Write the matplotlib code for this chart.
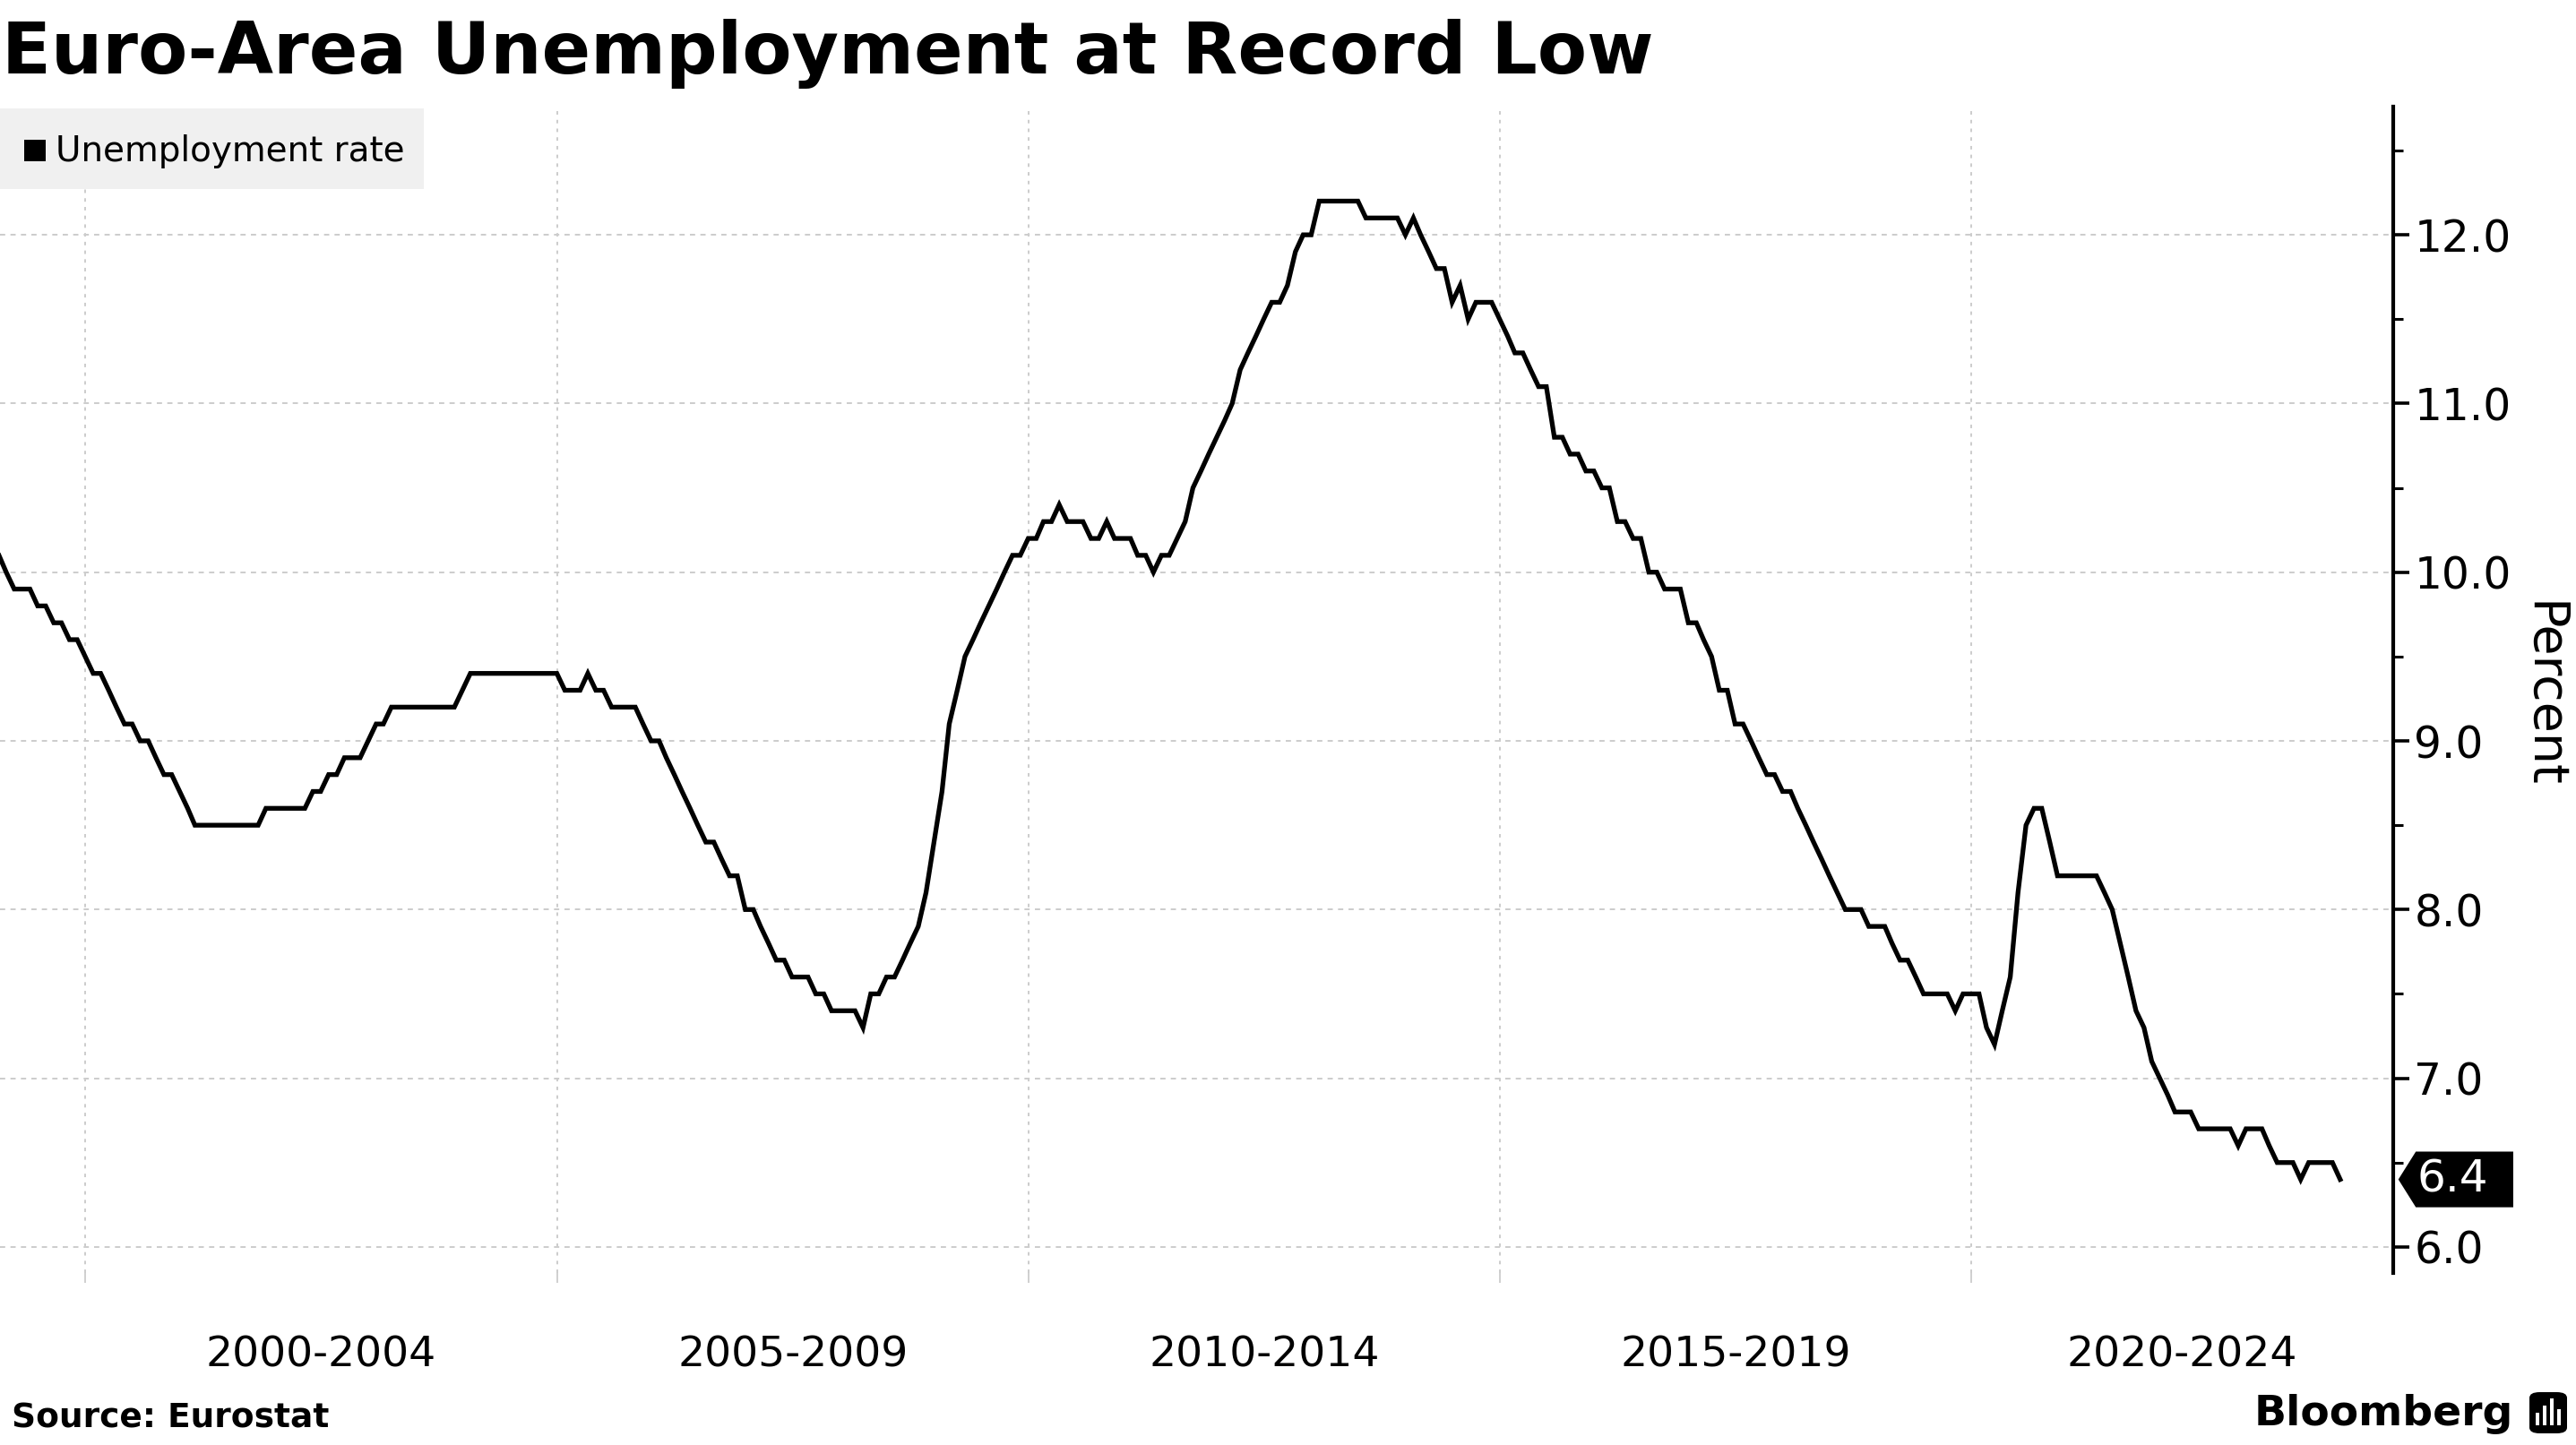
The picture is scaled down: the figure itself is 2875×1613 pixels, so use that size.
import numpy as np
import pandas as pd
import matplotlib
matplotlib.use("Agg")
import matplotlib.pyplot as plt
import matplotlib.transforms as mtransforms
from matplotlib.patches import Polygon, Rectangle, FancyBboxPatch

# ---- text ----
title = "Euro-Area Unemployment at Record Low"
series_name = "Unemployment rate"
source = "Source: Eurostat"
y_label = "Percent"
period_labels = ["2000-2004", "2005-2009", "2010-2014", "2015-2019", "2020-2024"]
period_starts = [2000, 2005, 2010, 2015, 2020]
y_ticks = [6, 7, 8, 9, 10, 11, 12]

# ---- data: euro-area unemployment rate (%), monthly, Jan 1999 - Nov 2023 ----
first_month = "1999-01"
rate_1999 = [10.1, 10.0, 9.9, 9.9, 9.9, 9.8, 9.8, 9.7, 9.7, 9.6, 9.6, 9.5]
rate_2000 = [9.4, 9.4, 9.3, 9.2, 9.1, 9.1, 9.0, 9.0, 8.9, 8.8, 8.8, 8.7]
rate_2001 = [8.6, 8.5, 8.5, 8.5, 8.5, 8.5, 8.5, 8.5, 8.5, 8.5, 8.6, 8.6]
rate_2002 = [8.6, 8.6, 8.6, 8.6, 8.7, 8.7, 8.8, 8.8, 8.9, 8.9, 8.9, 9.0]
rate_2003 = [9.1, 9.1, 9.2, 9.2, 9.2, 9.2, 9.2, 9.2, 9.2, 9.2, 9.2, 9.3]
rate_2004 = [9.4, 9.4, 9.4, 9.4, 9.4, 9.4, 9.4, 9.4, 9.4, 9.4, 9.4, 9.4]
rate_2005 = [9.3, 9.3, 9.3, 9.4, 9.3, 9.3, 9.2, 9.2, 9.2, 9.2, 9.1, 9.0]
rate_2006 = [9.0, 8.9, 8.8, 8.7, 8.6, 8.5, 8.4, 8.4, 8.3, 8.2, 8.2, 8.0]
rate_2007 = [8.0, 7.9, 7.8, 7.7, 7.7, 7.6, 7.6, 7.6, 7.5, 7.5, 7.4, 7.4]
rate_2008 = [7.4, 7.4, 7.3, 7.5, 7.5, 7.6, 7.6, 7.7, 7.8, 7.9, 8.1, 8.4]
rate_2009 = [8.7, 9.1, 9.3, 9.5, 9.6, 9.7, 9.8, 9.9, 10.0, 10.1, 10.1, 10.2]
rate_2010 = [10.2, 10.3, 10.3, 10.4, 10.3, 10.3, 10.3, 10.2, 10.2, 10.3, 10.2, 10.2]
rate_2011 = [10.2, 10.1, 10.1, 10.0, 10.1, 10.1, 10.2, 10.3, 10.5, 10.6, 10.7, 10.8]
rate_2012 = [10.9, 11.0, 11.2, 11.3, 11.4, 11.5, 11.6, 11.6, 11.7, 11.9, 12.0, 12.0]
rate_2013 = [12.2, 12.2, 12.2, 12.2, 12.2, 12.2, 12.1, 12.1, 12.1, 12.1, 12.1, 12.0]
rate_2014 = [12.1, 12.0, 11.9, 11.8, 11.8, 11.6, 11.7, 11.5, 11.6, 11.6, 11.6, 11.5]
rate_2015 = [11.4, 11.3, 11.3, 11.2, 11.1, 11.1, 10.8, 10.8, 10.7, 10.7, 10.6, 10.6]
rate_2016 = [10.5, 10.5, 10.3, 10.3, 10.2, 10.2, 10.0, 10.0, 9.9, 9.9, 9.9, 9.7]
rate_2017 = [9.7, 9.6, 9.5, 9.3, 9.3, 9.1, 9.1, 9.0, 8.9, 8.8, 8.8, 8.7]
rate_2018 = [8.7, 8.6, 8.5, 8.4, 8.3, 8.2, 8.1, 8.0, 8.0, 8.0, 7.9, 7.9]
rate_2019 = [7.9, 7.8, 7.7, 7.7, 7.6, 7.5, 7.5, 7.5, 7.5, 7.4, 7.5, 7.5]
rate_2020 = [7.5, 7.3, 7.2, 7.4, 7.6, 8.1, 8.5, 8.6, 8.6, 8.4, 8.2, 8.2]
rate_2021 = [8.2, 8.2, 8.2, 8.2, 8.1, 8.0, 7.8, 7.6, 7.4, 7.3, 7.1, 7.0]
rate_2022 = [6.9, 6.8, 6.8, 6.8, 6.7, 6.7, 6.7, 6.7, 6.7, 6.6, 6.7, 6.7]
rate_2023 = [6.7, 6.6, 6.5, 6.5, 6.5, 6.4, 6.5, 6.5, 6.5, 6.5, 6.4]

rate = (rate_1999 + rate_2000 + rate_2001 + rate_2002 + rate_2003 + rate_2004
        + rate_2005 + rate_2006 + rate_2007 + rate_2008 + rate_2009 + rate_2010
        + rate_2011 + rate_2012 + rate_2013 + rate_2014 + rate_2015 + rate_2016
        + rate_2017 + rate_2018 + rate_2019 + rate_2020 + rate_2021 + rate_2022
        + rate_2023)
dates = pd.date_range(first_month, periods=len(rate), freq="ME")  # month-end points

plt.rcParams["font.family"] = "DejaVu Sans"

fig = plt.figure(figsize=(14.375, 8.065), dpi=200)
ax = fig.add_axes([0.0, 0.119, 0.929, 0.8072])

ax.plot(dates, rate, color="black", lw=1.9, solid_joinstyle="miter", zorder=3)

x_left = pd.Timestamp("1999-02-04")
x_right = pd.Timestamp("2024-06-22")
ax.set_xlim(x_left, x_right)
ax.set_ylim(5.845, 12.76)

# y axis on the right
ax.yaxis.tick_right()
ax.set_yticks(y_ticks)
ax.set_yticklabels([f"{v:.1f}" for v in y_ticks])
ax.set_yticks(np.arange(6.5, 12.6, 1.0), minor=True)
ax.tick_params(axis="y", which="major", direction="out", length=6.5, width=1.3,
               pad=2, labelsize=17.5, colors="black")
ax.tick_params(axis="y", which="minor", direction="out", length=3.8, width=1.1)

# x axis: gridlines at period starts, labels centred in each period
starts = [pd.Timestamp(f"{y}-01-01") for y in period_starts]
ends = starts[1:] + [x_right]
mids = [s + (e - s) / 2 for s, e in zip(starts, ends)]
ax.set_xticks(starts)
ax.set_xticklabels([""] * len(starts))
ax.set_xticks(mids, minor=True)
ax.set_xticklabels(period_labels, minor=True)
ax.tick_params(axis="x", which="major", length=4, width=0.6, color="#c8c8c8")
ax.tick_params(axis="x", which="minor", length=0, pad=25, labelsize=17)

ax.grid(axis="y", which="major", color="#cccccc", lw=0.7, linestyle=(0, (3, 3)))
ax.grid(axis="x", which="major", color="#cccccc", lw=0.7, linestyle=(0, (2, 3)))

for side in ["left", "top", "bottom"]:
    ax.spines[side].set_visible(False)
ax.spines["right"].set_linewidth(1.5)

# last value tag
last = rate[-1]
blend = mtransforms.blended_transform_factory(ax.transAxes, ax.transData)
h = 0.165
tag = Polygon([(1.0022, last), (1.0095, last + h), (1.0502, last + h),
               (1.0502, last - h), (1.0095, last - h)],
              closed=True, transform=blend, facecolor="black", edgecolor="none",
              clip_on=False, zorder=5)
ax.add_patch(tag)
ax.text(1.0100, last, f"{last:.1f}", transform=blend, color="white",
        fontsize=18, ha="left", va="center", zorder=6, clip_on=False)

fig.text(2838 / 2875, 0.519, y_label, rotation=270, fontsize=20,
         ha="center", va="center")

# legend box
fig.patches.append(Rectangle((0.0, 0.8692), 0.1645, 0.0558,
                             transform=fig.transFigure, facecolor="#f0f0f0",
                             edgecolor="none"))
fig.patches.append(Rectangle((27 / 2875, 1 - 180 / 1613), 24 / 2875, 24 / 1613,
                             transform=fig.transFigure, facecolor="black",
                             edgecolor="none"))
fig.text(62 / 2875, 0.8955, series_name, fontsize=14, ha="left", va="center")

# title and footer
fig.text(0.0008, 0.963, title, fontsize=29, fontweight="bold", ha="left", va="center")
fig.text(13 / 2875, 0.0185, source, fontsize=13.5, fontweight="bold",
         ha="left", va="center")
fig.text(2805 / 2875, 0.0215, "Bloomberg", fontsize=17, fontweight="bold",
         ha="right", va="center")
fig.patches.append(FancyBboxPatch((2823 / 2875, 13 / 1613), 42 / 2875, 46 / 1613,
                                  boxstyle="round,pad=0,rounding_size=0.004",
                                  transform=fig.transFigure, facecolor="black",
                                  edgecolor="none"))
for i, bh in enumerate([14, 22, 30, 18]):
    fig.patches.append(Rectangle(((2830 + i * 8) / 2875, 22 / 1613), 4 / 2875, bh / 1613,
                                 transform=fig.transFigure, facecolor="white",
                                 edgecolor="none"))

fig.savefig("out.png", dpi=200, facecolor="white")
